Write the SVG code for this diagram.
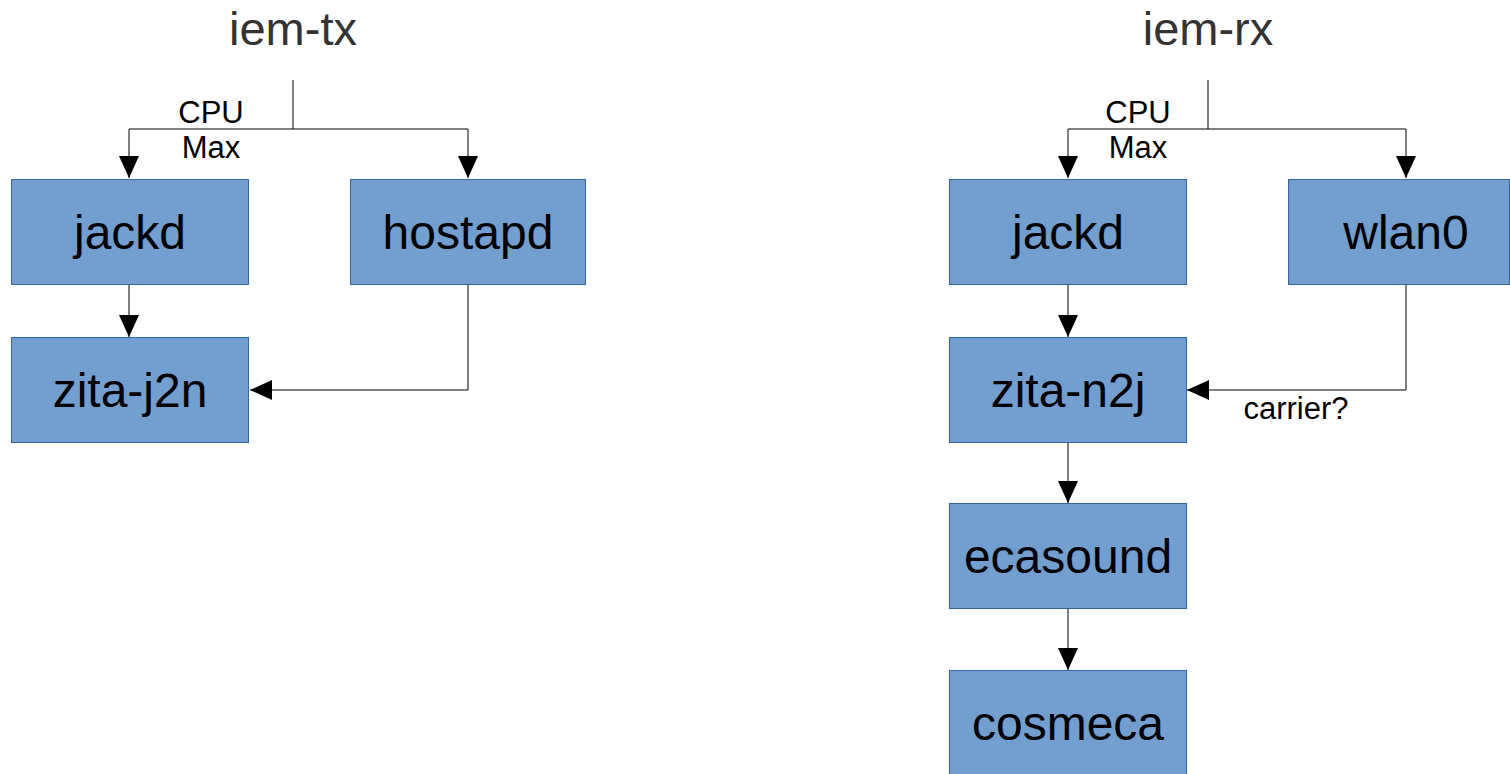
<svg xmlns="http://www.w3.org/2000/svg" width="1510" height="774" viewBox="0 0 1510 774">
<style>
.box{fill:#729fcf;stroke:#3465a4;stroke-width:1}
.lbl{font-family:"Liberation Sans",Arial,sans-serif;font-size:48px;fill:#000;text-anchor:middle}
.title{font-family:"Liberation Sans",Arial,sans-serif;font-size:47px;fill:#333;text-anchor:middle}
.small{font-family:"Liberation Sans",Arial,sans-serif;font-size:31px;fill:#000;text-anchor:middle}
.ln{fill:none;stroke:#000;stroke-width:1}
</style>
<defs>
<marker id="arr" viewBox="0 0 22 20" refX="22" refY="10" markerWidth="22" markerHeight="20" markerUnits="userSpaceOnUse" orient="auto">
<path d="M0,0 L22,10 L0,20 z" fill="#000"/>
</marker>
</defs>
<text class="title" x="293" y="45">iem-tx</text>
<text class="title" x="1208" y="45">iem-rx</text>
<g id="connectors">
<path class="ln" d="M293,80 V129"/>
<path class="ln" d="M293,129 H129 V178" marker-end="url(#arr)"/>
<path class="ln" d="M293,129 H468 V178" marker-end="url(#arr)"/>
<path class="ln" d="M129,285 V337" marker-end="url(#arr)"/>
<path class="ln" d="M468,285 V390 H250" marker-end="url(#arr)"/>
<path class="ln" d="M1208,80 V129"/>
<path class="ln" d="M1208,129 H1068 V178" marker-end="url(#arr)"/>
<path class="ln" d="M1208,129 H1406 V178" marker-end="url(#arr)"/>
<path class="ln" d="M1068,285 V337" marker-end="url(#arr)"/>
<path class="ln" d="M1406,285 V390 H1187" marker-end="url(#arr)"/>
<path class="ln" d="M1068,443 V503" marker-end="url(#arr)"/>
<path class="ln" d="M1068,609 V670" marker-end="url(#arr)"/>
<text class="small" x="211" y="123">CPU</text>
<text class="small" x="211" y="158">Max</text>
<text class="small" x="1138" y="123">CPU</text>
<text class="small" x="1138" y="158">Max</text>
<text class="small" x="1296" y="419">carrier?</text>
</g>
<g id="tx-jackd"><rect class="box" x="11.5" y="179.5" width="237" height="105"/><text class="lbl" x="130" y="249">jackd</text></g>
<g id="tx-hostapd"><rect class="box" x="350.5" y="179.5" width="235" height="105"/><text class="lbl" x="468" y="249">hostapd</text></g>
<g id="tx-zita-j2n"><rect class="box" x="11.5" y="337.5" width="237" height="105"/><text class="lbl" x="130" y="407">zita-j2n</text></g>
<g id="rx-jackd"><rect class="box" x="949.5" y="179.5" width="237" height="105"/><text class="lbl" x="1068" y="249">jackd</text></g>
<g id="rx-wlan0"><rect class="box" x="1288.5" y="179.5" width="221" height="105"/><text class="lbl" x="1406" y="249">wlan0</text></g>
<g id="rx-zita-n2j"><rect class="box" x="949.5" y="337.5" width="237" height="105"/><text class="lbl" x="1068" y="407">zita-n2j</text></g>
<g id="rx-ecasound"><rect class="box" x="949.5" y="503.5" width="237" height="105"/><text class="lbl" x="1068" y="573">ecasound</text></g>
<g id="rx-cosmeca"><rect class="box" x="949.5" y="670.5" width="237" height="105"/><text class="lbl" x="1068" y="740">cosmeca</text></g>
</svg>
